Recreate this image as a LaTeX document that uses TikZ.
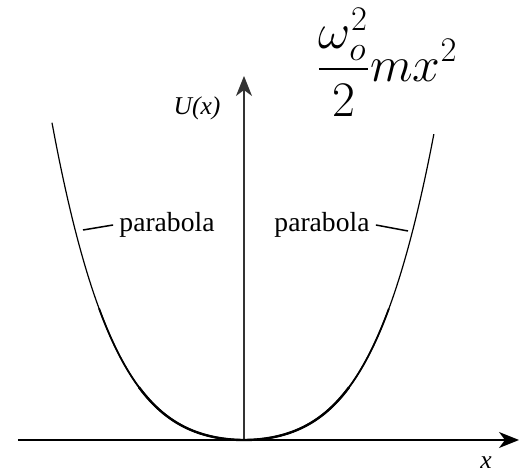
\documentclass[tikz,border=0pt]{standalone}
\usepackage{amsmath}
\usepackage{fontspec}
\setmainfont{Liberation Serif}[ItalicFont={Liberation Serif Italic}]
\usepackage{tikz}
\usetikzlibrary{arrows.meta}
\usetikzlibrary{positioning}
\tikzset{%
  axis/.style={line width=0.75pt,-{Stealth[length=10pt,width=8pt,inset=3pt]}},
  potential/.style={line width=0.6pt,black},
  leader/.style={line width=0.75pt},
  lbl/.style={font=\fontsize{13.8}{16}\selectfont,inner sep=3pt},
  axlbl/.style={font=\fontsize{12.8}{15}\selectfont\itshape,inner sep=1pt}
}

\begin{document}
\begin{tikzpicture}[x=0.5pt,y=0.5pt]
  \useasboundingbox (-244,-36) rectangle (275,440);
  \coordinate (O) at (0,0);
  \coordinate (xstart) at (-226,0);
  \coordinate (xend) at (275,0);
  \coordinate (yend) at (0,364);

  % axes
  \draw[axis] (xstart) -- (xend);
  \draw[axis,black!80] (O) -- (yend);
  \node[axlbl] (ulbl) at (-47,332) {U(x)};
  \node[axlbl] (xlbl) at (242,-23) {x};

  % the well, heavier towards the bottom
  \draw[potential] plot[domain=-1.92:1.90,samples=120,smooth]
    ({100*\x},{31.5*\x*\x+14.8*\x*\x*\x*\x});
  \draw[potential,line width=0.9pt] plot[domain=-1.45:1.45,samples=80,smooth]
    ({100*\x},{31.5*\x*\x+14.8*\x*\x*\x*\x});
  \draw[potential,line width=1.2pt] plot[domain=-1.05:1.05,samples=60,smooth]
    ({100*\x},{31.5*\x*\x+14.8*\x*\x*\x*\x});
  \coordinate (onL) at (-161,210);
  \coordinate (onR) at (164,209);

  \node[lbl] (parL) at (-77,215) {parabola};
  \node[lbl] (parR) at (78,215) {parabola};
  \draw[leader] (parL.west) -- (onL);
  \draw[leader] (parR.east) -- (onR);

  \node[font=\fontsize{25}{30}\selectfont] (form) at (143,378)
    {$\displaystyle\frac{\omega_o^2}{2}mx^2$};
\end{tikzpicture}
\end{document}
